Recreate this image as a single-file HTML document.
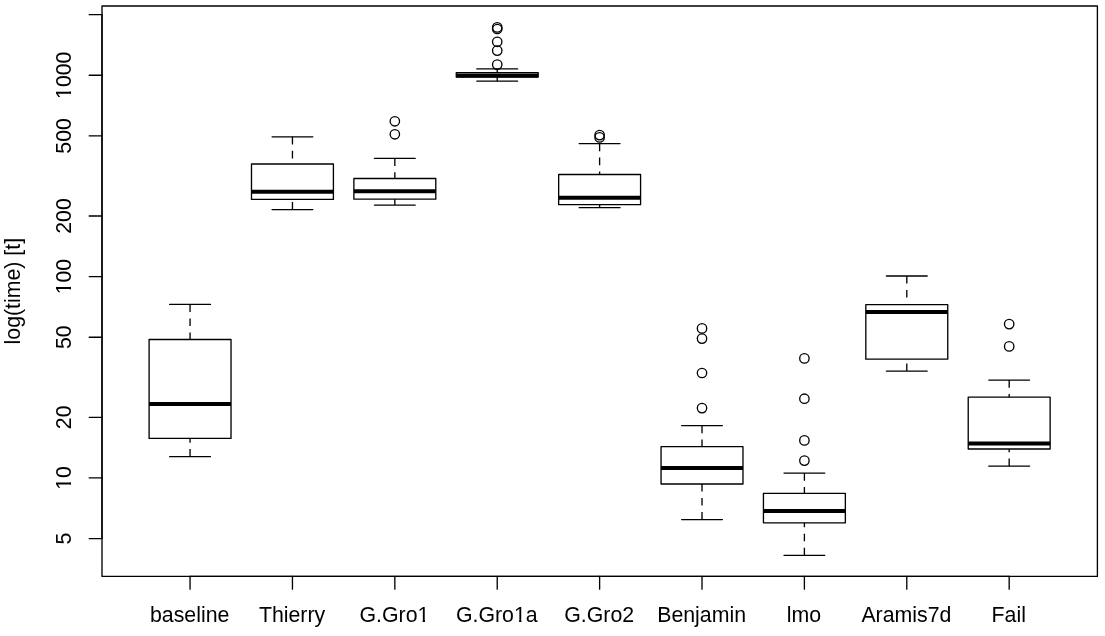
<!DOCTYPE html>
<html><head><meta charset="utf-8"><title>boxplot</title>
<style>html,body{margin:0;padding:0;background:#fff}svg{display:block;filter:grayscale(1)}</style></head>
<body>
<svg width="1105" height="636" viewBox="0 0 1105 636">
<rect width="1105" height="636" fill="#fff"/>
<g fill="none" stroke="#000" stroke-width="1.33" stroke-linecap="round" stroke-linejoin="round">
<path d="M190.06 304.4V339.5" stroke-dasharray="7.6 6.4" stroke-linecap="butt"/>
<path d="M190.06 456.7V438.4" stroke-dasharray="7.6 6.4" stroke-linecap="butt"/>
<path d="M169.66 304.4H210.46M169.66 456.7H210.46"/>
<path d="M149.1 403.9H231.02" stroke-width="3.99" stroke-linecap="butt"/>
<rect x="149.1" y="339.5" width="81.92" height="98.9"/>
<path d="M292.45 136.8V164.0" stroke-dasharray="7.6 6.4" stroke-linecap="butt"/>
<path d="M292.45 209.6V199.4" stroke-dasharray="7.6 6.4" stroke-linecap="butt"/>
<path d="M272.05 136.8H312.85M272.05 209.6H312.85"/>
<path d="M251.49 191.8H333.41" stroke-width="3.99" stroke-linecap="butt"/>
<rect x="251.49" y="164.0" width="81.92" height="35.4"/>
<path d="M394.84 158.3V178.5" stroke-dasharray="7.6 6.4" stroke-linecap="butt"/>
<path d="M394.84 205.1V199.2" stroke-dasharray="7.6 6.4" stroke-linecap="butt"/>
<path d="M374.44 158.3H415.24M374.44 205.1H415.24"/>
<path d="M353.88 191.2H435.8" stroke-width="3.99" stroke-linecap="butt"/>
<rect x="353.88" y="178.5" width="81.92" height="20.7"/>
<circle cx="394.84" cy="121.3" r="4.7" stroke-width="1.33"/>
<circle cx="394.84" cy="134.3" r="4.7" stroke-width="1.33"/>
<path d="M497.23 68.9V72.6" stroke-dasharray="7.6 6.4" stroke-linecap="butt"/>
<path d="M497.23 81.2V77.0" stroke-dasharray="7.6 6.4" stroke-linecap="butt"/>
<path d="M476.83 68.9H517.63M476.83 81.2H517.63"/>
<path d="M456.27 75.5H538.19" stroke-width="3.99" stroke-linecap="butt"/>
<rect x="456.27" y="72.6" width="81.92" height="4.4"/>
<circle cx="497.23" cy="27.4" r="4.7" stroke-width="1.33"/>
<circle cx="497.23" cy="29.0" r="4.7" stroke-width="1.33"/>
<circle cx="497.23" cy="41.8" r="4.7" stroke-width="1.33"/>
<circle cx="497.23" cy="50.6" r="4.7" stroke-width="1.33"/>
<circle cx="497.23" cy="64.6" r="4.7" stroke-width="1.33"/>
<path d="M599.62 143.6V174.5" stroke-dasharray="7.6 6.4" stroke-linecap="butt"/>
<path d="M599.62 207.7V204.7" stroke-dasharray="7.6 6.4" stroke-linecap="butt"/>
<path d="M579.22 143.6H620.02M579.22 207.7H620.02"/>
<path d="M558.66 197.7H640.58" stroke-width="3.99" stroke-linecap="butt"/>
<rect x="558.66" y="174.5" width="81.92" height="30.2"/>
<circle cx="599.62" cy="135.1" r="4.7" stroke-width="1.33"/>
<circle cx="599.62" cy="137.4" r="4.7" stroke-width="1.33"/>
<path d="M702.01 425.6V446.6" stroke-dasharray="7.6 6.4" stroke-linecap="butt"/>
<path d="M702.01 519.6V484.0" stroke-dasharray="7.6 6.4" stroke-linecap="butt"/>
<path d="M681.61 425.6H722.41M681.61 519.6H722.41"/>
<path d="M661.05 467.9H742.97" stroke-width="3.99" stroke-linecap="butt"/>
<rect x="661.05" y="446.6" width="81.92" height="37.4"/>
<circle cx="702.01" cy="328.4" r="4.7" stroke-width="1.33"/>
<circle cx="702.01" cy="338.6" r="4.7" stroke-width="1.33"/>
<circle cx="702.01" cy="373.0" r="4.7" stroke-width="1.33"/>
<circle cx="702.01" cy="408.1" r="4.7" stroke-width="1.33"/>
<path d="M804.4 473.1V493.3" stroke-dasharray="7.6 6.4" stroke-linecap="butt"/>
<path d="M804.4 555.3V522.8" stroke-dasharray="7.6 6.4" stroke-linecap="butt"/>
<path d="M784.0 473.1H824.8M784.0 555.3H824.8"/>
<path d="M763.44 510.9H845.36" stroke-width="3.99" stroke-linecap="butt"/>
<rect x="763.44" y="493.3" width="81.92" height="29.5"/>
<circle cx="804.4" cy="358.4" r="4.7" stroke-width="1.33"/>
<circle cx="804.4" cy="398.7" r="4.7" stroke-width="1.33"/>
<circle cx="804.4" cy="440.4" r="4.7" stroke-width="1.33"/>
<circle cx="804.4" cy="460.6" r="4.7" stroke-width="1.33"/>
<path d="M906.79 276.0V304.7" stroke-dasharray="7.6 6.4" stroke-linecap="butt"/>
<path d="M906.79 371.1V359.2" stroke-dasharray="7.6 6.4" stroke-linecap="butt"/>
<path d="M886.39 276.0H927.19M886.39 371.1H927.19"/>
<path d="M865.83 312.1H947.75" stroke-width="3.99" stroke-linecap="butt"/>
<rect x="865.83" y="304.7" width="81.92" height="54.5"/>
<path d="M1009.18 380.1V397.2" stroke-dasharray="7.6 6.4" stroke-linecap="butt"/>
<path d="M1009.18 466.2V449.0" stroke-dasharray="7.6 6.4" stroke-linecap="butt"/>
<path d="M988.78 380.1H1029.58M988.78 466.2H1029.58"/>
<path d="M968.22 443.4H1050.14" stroke-width="3.99" stroke-linecap="butt"/>
<rect x="968.22" y="397.2" width="81.92" height="51.8"/>
<circle cx="1009.18" cy="324.1" r="4.7" stroke-width="1.33"/>
<circle cx="1009.18" cy="346.4" r="4.7" stroke-width="1.33"/>
<rect x="102.0" y="6.0" width="995.4" height="570.4"/>
<path d="M102.0 14.64H89.2M102.0 75.25H89.2M102.0 135.86H89.2M102.0 215.99H89.2M102.0 276.60H89.2M102.0 337.21H89.2M102.0 417.34H89.2M102.0 477.95H89.2M102.0 538.56H89.2"/>
<path d="M190.06 576.4V589.2M292.45 576.4V589.2M394.84 576.4V589.2M497.23 576.4V589.2M599.62 576.4V589.2M702.01 576.4V589.2M804.4 576.4V589.2M906.79 576.4V589.2M1009.18 576.4V589.2"/>
<path d="M102.0 14.64V538.56M190.06 576.4H1009.18"/>
</g>
<g font-family="Liberation Sans, sans-serif" font-size="21.3px" fill="#000" text-anchor="middle">
<text x="189.66" y="621.5">baseline</text>
<text x="292.05" y="621.5">Thierry</text>
<text x="394.44" y="621.5">G.Gro1</text>
<rect x="418.44" y="619.21" width="4.18" height="2.99" fill="#fff"/><rect x="425.00" y="619.21" width="4.02" height="2.99" fill="#fff"/>
<text x="496.83" y="621.5">G.Gro1a</text>
<rect x="514.90" y="619.21" width="4.18" height="2.99" fill="#fff"/><rect x="521.47" y="619.21" width="4.02" height="2.99" fill="#fff"/>
<text x="599.22" y="621.5">G.Gro2</text>
<text x="701.61" y="621.5">Benjamin</text>
<text x="804.00" y="621.5">lmo</text>
<text x="906.39" y="621.5">Aramis7d</text>
<text x="1008.78" y="621.5">Fail</text>
<g transform="translate(70.9 75.25) rotate(-90)"><text>1000</text><rect x="-22.77" y="-2.29" width="4.18" height="2.99" fill="#fff"/><rect x="-16.20" y="-2.29" width="4.02" height="2.99" fill="#fff"/></g>
<g transform="translate(70.9 135.86) rotate(-90)"><text>500</text></g>
<g transform="translate(70.9 215.99) rotate(-90)"><text>200</text></g>
<g transform="translate(70.9 276.60) rotate(-90)"><text>100</text><rect x="-16.85" y="-2.29" width="4.18" height="2.99" fill="#fff"/><rect x="-10.28" y="-2.29" width="4.02" height="2.99" fill="#fff"/></g>
<g transform="translate(70.9 337.21) rotate(-90)"><text>50</text></g>
<g transform="translate(70.9 417.34) rotate(-90)"><text>20</text></g>
<g transform="translate(70.9 477.95) rotate(-90)"><text>10</text><rect x="-10.92" y="-2.29" width="4.18" height="2.99" fill="#fff"/><rect x="-4.36" y="-2.29" width="4.02" height="2.99" fill="#fff"/></g>
<g transform="translate(70.9 538.56) rotate(-90)"><text>5</text></g>
<text transform="translate(20.0 291.20) rotate(-90)">log(time) [t]</text>
</g></svg>
</body></html>
